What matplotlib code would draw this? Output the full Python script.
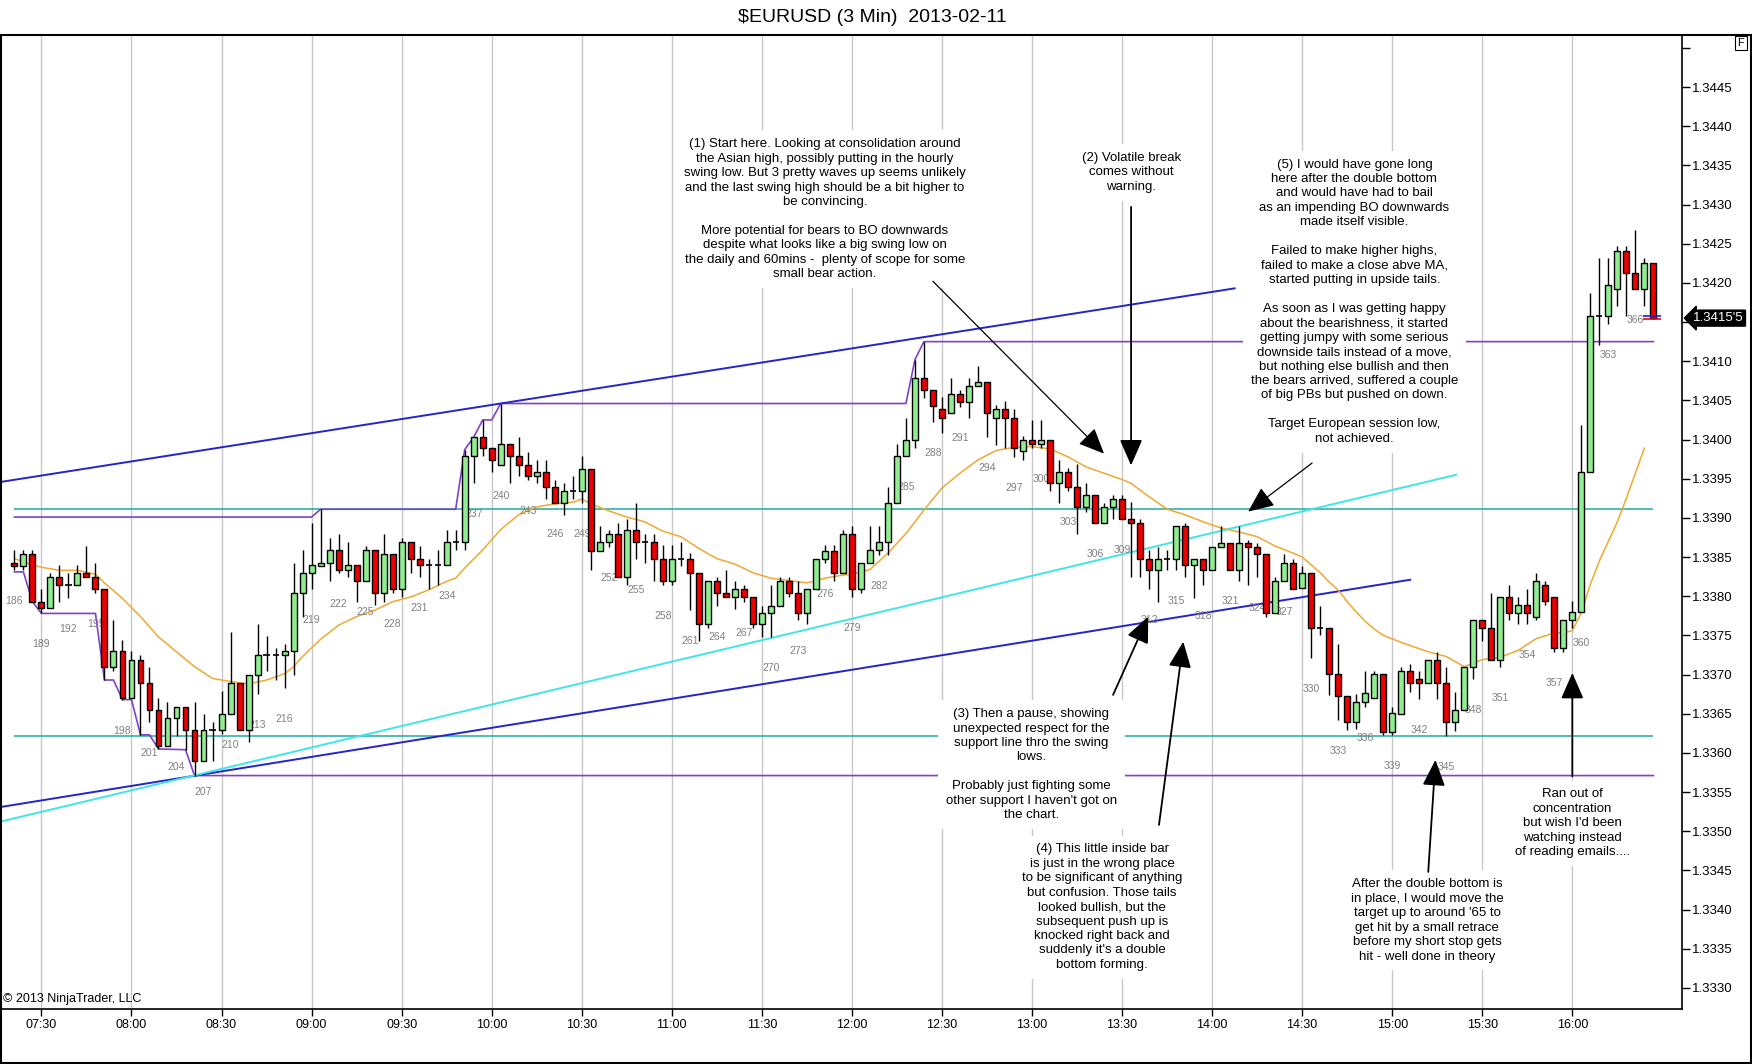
import numpy as np
import matplotlib.pyplot as plt
from matplotlib.patches import Rectangle

plt.rcParams['font.family'] = ['Liberation Sans', 'DejaVu Sans']

# 3 min bars, numbered as on the chart
first_bar = 186
opens = [
    1.33843, 1.33839, 1.33854, 1.33793, 1.33785, 1.33824, 1.33814, 1.33814, 1.33829, 1.33824,
    1.33809, 1.33709, 1.33730, 1.33670, 1.33719, 1.33689, 1.33655, 1.33609, 1.33644, 1.33659,
    1.33629, 1.33589, 1.33629, 1.33629, 1.33649, 1.33689, 1.33629, 1.33699, 1.33725, 1.33725,
    1.33725, 1.33730, 1.33804, 1.33829, 1.33839, 1.33843, 1.33859, 1.33834, 1.33840, 1.33819,
    1.33859, 1.33804, 1.33854, 1.33809, 1.33869, 1.33848, 1.33840, 1.33840, 1.33840, 1.33869,
    1.33869, 1.33979, 1.34003, 1.33989, 1.33968, 1.33994, 1.33979, 1.33968, 1.33953, 1.33958,
    1.33939, 1.33919, 1.33934, 1.33934, 1.33963, 1.33858, 1.33869, 1.33879, 1.33824, 1.33884,
    1.33869, 1.33869, 1.33848, 1.33819, 1.33848, 1.33848, 1.33829, 1.33764, 1.33819, 1.33804,
    1.33799, 1.33809, 1.33799, 1.33764, 1.33779, 1.33788, 1.33819, 1.33804, 1.33779, 1.33809,
    1.33848, 1.33858, 1.33829, 1.33879, 1.33809, 1.33843, 1.33859, 1.33869, 1.33919, 1.33979,
    1.33999, 1.34078, 1.34063, 1.34039, 1.34034, 1.34058, 1.34048, 1.34068, 1.34073, 1.34028,
    1.34039, 1.34028, 1.33985, 1.33999, 1.33994, 1.33999, 1.33944, 1.33959, 1.33939, 1.33914,
    1.33929, 1.33893, 1.33914, 1.33924, 1.33898, 1.33893, 1.33848, 1.33834, 1.33848, 1.33848,
    1.33889, 1.33840, 1.33848, 1.33834, 1.33863, 1.33868, 1.33834, 1.33868, 1.33863, 1.33854,
    1.33779, 1.33819, 1.33843, 1.33810, 1.33829, 1.33760, 1.33760, 1.33701, 1.33672, 1.33640,
    1.33665, 1.33670, 1.33701, 1.33627, 1.33649, 1.33704, 1.33694, 1.33689, 1.33719, 1.33689,
    1.33639, 1.33655, 1.33709, 1.33769, 1.33759, 1.33719, 1.33799, 1.33779, 1.33789, 1.33774,
    1.33814, 1.33799, 1.33734, 1.33770, 1.33780, 1.33958, 1.34158, 1.34158, 1.34192, 1.34241,
    1.34212, 1.34192, 1.34226,
]
highs = [
    1.33859, 1.33859, 1.33859, 1.33809, 1.33829, 1.33840, 1.33829, 1.33840, 1.33864, 1.33843,
    1.33809, 1.33770, 1.33744, 1.33730, 1.33725, 1.33709, 1.33670, 1.33665, 1.33659, 1.33659,
    1.33665, 1.33649, 1.33639, 1.33679, 1.33754, 1.33689, 1.33699, 1.33765, 1.33749, 1.33734,
    1.33739, 1.33843, 1.33859, 1.33893, 1.33911, 1.33874, 1.33879, 1.33869, 1.33840, 1.33864,
    1.33859, 1.33879, 1.33854, 1.33874, 1.33869, 1.33864, 1.33848, 1.33859, 1.33885, 1.33885,
    1.33987, 1.34003, 1.34025, 1.33989, 1.34046, 1.33994, 1.34003, 1.33984, 1.33974, 1.33974,
    1.33948, 1.33944, 1.33953, 1.33979, 1.33963, 1.33890, 1.33885, 1.33893, 1.33898, 1.33919,
    1.33879, 1.33879, 1.33865, 1.33865, 1.33869, 1.33855, 1.33829, 1.33819, 1.33824, 1.33834,
    1.33819, 1.33814, 1.33799, 1.33788, 1.33814, 1.33824, 1.33824, 1.33819, 1.33809, 1.33848,
    1.33865, 1.33865, 1.33884, 1.33889, 1.33843, 1.33889, 1.33889, 1.33940, 1.33994, 1.34028,
    1.34102, 1.34125, 1.34063, 1.34054, 1.34078, 1.34063, 1.34078, 1.34094, 1.34073, 1.34044,
    1.34049, 1.34039, 1.34004, 1.34025, 1.34025, 1.33999, 1.33974, 1.33964, 1.33969, 1.33944,
    1.33929, 1.33919, 1.33929, 1.33929, 1.33920, 1.33898, 1.33859, 1.33863, 1.33859, 1.33889,
    1.33893, 1.33848, 1.33848, 1.33863, 1.33889, 1.33868, 1.33889, 1.33872, 1.33868, 1.33854,
    1.33825, 1.33854, 1.33848, 1.33839, 1.33829, 1.33788, 1.33760, 1.33739, 1.33672, 1.33675,
    1.33705, 1.33705, 1.33701, 1.33658, 1.33709, 1.33714, 1.33704, 1.33719, 1.33729, 1.33709,
    1.33678, 1.33709, 1.33769, 1.33769, 1.33804, 1.33799, 1.33814, 1.33799, 1.33809, 1.33829,
    1.33819, 1.33799, 1.33769, 1.33794, 1.34018, 1.34187, 1.34232, 1.34232, 1.34247, 1.34247,
    1.34268, 1.34232, 1.34226,
]
lows = [
    1.33834, 1.33834, 1.33793, 1.33778, 1.33785, 1.33793, 1.33798, 1.33814, 1.33824, 1.33804,
    1.33693, 1.33704, 1.33668, 1.33670, 1.33623, 1.33639, 1.33605, 1.33609, 1.33621, 1.33604,
    1.33571, 1.33589, 1.33589, 1.33624, 1.33649, 1.33629, 1.33614, 1.33675, 1.33704, 1.33693,
    1.33683, 1.33699, 1.33774, 1.33809, 1.33839, 1.33819, 1.33829, 1.33824, 1.33793, 1.33819,
    1.33789, 1.33793, 1.33804, 1.33799, 1.33829, 1.33824, 1.33809, 1.33814, 1.33840, 1.33859,
    1.33859, 1.33944, 1.33979, 1.33958, 1.33968, 1.33944, 1.33953, 1.33948, 1.33944, 1.33924,
    1.33919, 1.33904, 1.33924, 1.33919, 1.33834, 1.33858, 1.33863, 1.33824, 1.33814, 1.33848,
    1.33843, 1.33819, 1.33814, 1.33814, 1.33838, 1.33782, 1.33743, 1.33759, 1.33788, 1.33799,
    1.33784, 1.33793, 1.33759, 1.33748, 1.33748, 1.33788, 1.33799, 1.33770, 1.33764, 1.33809,
    1.33843, 1.33819, 1.33829, 1.33799, 1.33804, 1.33843, 1.33853, 1.33853, 1.33919, 1.33979,
    1.33989, 1.34053, 1.34023, 1.34008, 1.34034, 1.34042, 1.34028, 1.34068, 1.34003, 1.33993,
    1.33989, 1.33978, 1.33974, 1.33989, 1.33989, 1.33934, 1.33919, 1.33934, 1.33879, 1.33908,
    1.33893, 1.33893, 1.33898, 1.33898, 1.33825, 1.33825, 1.33809, 1.33793, 1.33834, 1.33834,
    1.33825, 1.33798, 1.33814, 1.33834, 1.33863, 1.33834, 1.33819, 1.33814, 1.33825, 1.33774,
    1.33779, 1.33819, 1.33809, 1.33810, 1.33721, 1.33750, 1.33674, 1.33642, 1.33629, 1.33630,
    1.33658, 1.33670, 1.33623, 1.33623, 1.33649, 1.33678, 1.33669, 1.33689, 1.33669, 1.33621,
    1.33628, 1.33655, 1.33694, 1.33743, 1.33719, 1.33709, 1.33769, 1.33764, 1.33764, 1.33769,
    1.33789, 1.33729, 1.33729, 1.33759, 1.33780, 1.33958, 1.34121, 1.34147, 1.34171, 1.34158,
    1.34192, 1.34171, 1.34154,
]
closes = [
    1.33839, 1.33854, 1.33793, 1.33785, 1.33824, 1.33814, 1.33814, 1.33829, 1.33824, 1.33809,
    1.33709, 1.33730, 1.33670, 1.33719, 1.33689, 1.33655, 1.33609, 1.33644, 1.33659, 1.33629,
    1.33589, 1.33629, 1.33629, 1.33649, 1.33689, 1.33629, 1.33699, 1.33725, 1.33725, 1.33725,
    1.33730, 1.33804, 1.33829, 1.33840, 1.33843, 1.33859, 1.33834, 1.33840, 1.33819, 1.33859,
    1.33804, 1.33854, 1.33809, 1.33869, 1.33848, 1.33840, 1.33840, 1.33840, 1.33869, 1.33869,
    1.33979, 1.34003, 1.33989, 1.33974, 1.33994, 1.33979, 1.33968, 1.33953, 1.33958, 1.33939,
    1.33919, 1.33934, 1.33934, 1.33963, 1.33858, 1.33869, 1.33879, 1.33824, 1.33884, 1.33869,
    1.33869, 1.33848, 1.33819, 1.33848, 1.33848, 1.33829, 1.33764, 1.33819, 1.33804, 1.33799,
    1.33809, 1.33799, 1.33764, 1.33779, 1.33788, 1.33819, 1.33804, 1.33779, 1.33809, 1.33848,
    1.33858, 1.33829, 1.33879, 1.33809, 1.33843, 1.33859, 1.33869, 1.33919, 1.33979, 1.33999,
    1.34078, 1.34063, 1.34043, 1.34028, 1.34058, 1.34048, 1.34068, 1.34073, 1.34034, 1.34039,
    1.34028, 1.33989, 1.33999, 1.33994, 1.33999, 1.33944, 1.33959, 1.33939, 1.33914, 1.33929,
    1.33893, 1.33914, 1.33924, 1.33898, 1.33893, 1.33848, 1.33834, 1.33848, 1.33848, 1.33889,
    1.33840, 1.33848, 1.33834, 1.33863, 1.33868, 1.33834, 1.33868, 1.33863, 1.33854, 1.33779,
    1.33819, 1.33843, 1.33809, 1.33829, 1.33760, 1.33760, 1.33701, 1.33672, 1.33640, 1.33665,
    1.33676, 1.33701, 1.33627, 1.33651, 1.33704, 1.33689, 1.33689, 1.33719, 1.33689, 1.33639,
    1.33655, 1.33709, 1.33769, 1.33759, 1.33719, 1.33799, 1.33779, 1.33789, 1.33779, 1.33819,
    1.33794, 1.33734, 1.33769, 1.33780, 1.33958, 1.34158, 1.34158, 1.34197, 1.34241, 1.34212,
    1.34192, 1.34226, 1.34155,
]
assert len(opens) == len(highs) == len(lows) == len(closes)

# orange moving average
ma_bars = [186, 188, 189, 191, 193, 195, 196, 198, 200, 202, 204, 206, 208, 210, 212, 214, 216,
           217, 218, 220, 222, 224, 226, 228, 230, 232, 234, 235, 236, 238, 240, 242, 244, 246,
           248, 249, 250, 252, 254, 256, 258, 260, 262, 264, 266, 268, 270, 272, 274, 276, 278,
           279, 281, 283, 285, 287, 289, 291, 293, 295, 297, 299, 301, 303, 305, 307, 309, 310,
           312, 314, 316, 318, 320, 322, 324, 326, 328, 329, 330, 331, 332, 333, 334, 335, 336,
           337, 338, 340, 341, 343, 345, 347, 349, 351, 353, 355, 357, 358, 359, 360, 361, 362,
           363, 364, 365, 366, 367]
ma_vals = [1.33848, 1.33840, 1.33837, 1.33833, 1.33833, 1.33828, 1.33817, 1.33797, 1.33774,
           1.33748, 1.33729, 1.33710, 1.33695, 1.33691, 1.33688, 1.33693, 1.33701, 1.33710,
           1.33723, 1.33745, 1.33763, 1.33774, 1.33782, 1.33793, 1.33799, 1.33808, 1.33819,
           1.33823, 1.33836, 1.33859, 1.33885, 1.33904, 1.33914, 1.33918, 1.33920, 1.33924,
           1.33918, 1.33909, 1.33901, 1.33895, 1.33883, 1.33876, 1.33861, 1.33848, 1.33841,
           1.33830, 1.33823, 1.33820, 1.33817, 1.33823, 1.33827, 1.33828, 1.33834, 1.33855,
           1.33880, 1.33910, 1.33938, 1.33957, 1.33974, 1.33986, 1.33990, 1.33991, 1.33988,
           1.33978, 1.33965, 1.33957, 1.33949, 1.33944, 1.33927, 1.33911, 1.33904, 1.33895,
           1.33887, 1.33882, 1.33876, 1.33864, 1.33855, 1.33850, 1.33840, 1.33830, 1.33818,
           1.33808, 1.33793, 1.33780, 1.33768, 1.33758, 1.33750, 1.33741, 1.33737, 1.33729,
           1.33723, 1.33710, 1.33719, 1.33722, 1.33731, 1.33746, 1.33753, 1.33753, 1.33756,
           1.33779, 1.33815, 1.33845, 1.33870, 1.33895, 1.33925, 1.33957, 1.33989]

# purple session high / low step lines
high_line_bars = [186, 219, 220, 235, 236, 237, 238, 239, 240, 285, 286, 287, 368]
high_line_vals = [1.33901, 1.33901, 1.33911, 1.33911, 1.33987, 1.34003, 1.34025, 1.34025,
                  1.34046, 1.34046, 1.34102, 1.34125, 1.34125]
low_line_bars = [186, 187, 188, 189, 195, 196, 197, 198, 199, 200, 201, 202, 205, 206, 368]
low_line_vals = [1.33831, 1.33831, 1.33793, 1.33778, 1.33778, 1.33693, 1.33693, 1.33668,
                 1.33668, 1.33623, 1.33623, 1.33605, 1.33604, 1.33571, 1.33571]

# teal horizontal levels
teal_levels = [1.33911, 1.33622]

# drawn trend lines (bar, price)
resist_bars, resist_vals = [184, 321.5], [1.33945, 1.34193]
support_bars, support_vals = [184, 341.0], [1.33530, 1.33821]
cyan_bars, cyan_vals = [184, 346.1], [1.33511, 1.33955]

time_bars = list(range(189, 360, 10))
time_labels = ['07:30', '08:00', '08:30', '09:00', '09:30', '10:00', '10:30', '11:00', '11:30',
               '12:00', '12:30', '13:00', '13:30', '14:00', '14:30', '15:00', '15:30', '16:00']

notes = [
    (276.0, 1.34294,
     "(1) Start here. Looking at consolidation around\nthe Asian high, possibly putting in the hourly\n"
     "swing low. But 3 pretty waves up seems unlikely\nand the last swing high should be a bit higher to\n"
     "be convincing.\n\nMore potential for bears to BO downwards\ndespite what looks like a big swing low on\n"
     "the daily and 60mins -  plenty of scope for some\nsmall bear action."),
    (310.0, 1.34341, "(2) Volatile break\ncomes without\nwarning."),
    (334.8, 1.34176,
     "(5) I would have gone long\nhere after the double bottom\nand would have had to bail\n"
     "as an impending BO downwards\nmade itself visible.\n\nFailed to make higher highs,\n"
     "failed to make a close abve MA,\nstarted putting in upside tails.\n\n"
     "As soon as I was getting happy\nabout the bearishness, it started\ngetting jumpy with some serious\n"
     "downside tails instead of a move,\nbut nothing else bullish and then\n"
     "the bears arrived, suffered a couple\nof big PBs but pushed on down.\n\n"
     "Target European session low,\nnot achieved."),
    (298.9, 1.33585,
     "(3) Then a pause, showing\nunexpected respect for the\nsupport line thro the swing\nlows.\n\n"
     "Probably just fighting some\nother support I haven't got on\nthe chart."),
    (306.8, 1.33403,
     "(4) This little inside bar\nis just in the wrong place\nto be significant of anything\n"
     "but confusion. Those tails\nlooked bullish, but the\nsubsequent push up is\n"
     "knocked right back and\nsuddenly it's a double\nbottom forming."),
    (342.9, 1.33386,
     "After the double bottom is\nin place, I would move the\ntarget up to around '65 to\n"
     "get hit by a small retrace\nbefore my short stop gets\nhit - well done in theory"),
    (359.0, 1.33510, "Ran out of\nconcentration\nbut wish I'd been\nwatching instead\nof reading emails...."),
]

# arrows: (tail bar, tail price, head bar, head price, line width)
arrows = [
    (288.0, 1.34202, 307.0, 1.33982, 0.9),
    (310.0, 1.34297, 310.0, 1.33967, 1.3),
    (330.1, 1.33970, 323.0, 1.33908, 0.9),
    (308.0, 1.33674, 311.9, 1.33774, 1.3),
    (313.1, 1.33508, 315.8, 1.33742, 1.3),
    (343.0, 1.33448, 343.8, 1.33591, 1.3),
    (359.0, 1.33570, 359.0, 1.33702, 1.3),
]

last_price = 1.34155

bars = np.arange(first_bar, first_bar + len(opens))
o = np.array(opens)
h = np.array(highs)
l = np.array(lows)
c = np.array(closes)

fig = plt.figure(figsize=(17.52, 10.64), dpi=100)
ax = fig.add_axes([0.0, 0.0517, 0.96, 0.9158])

ax.grid(axis='x', color='#c8c8c8', lw=1)
ax.set_axisbelow(True)

ax.hlines(teal_levels, first_bar, bars[-1], colors='#20aaa0', lw=1.1, zorder=2)
ax.plot(high_line_bars, high_line_vals, color='#8040c8', lw=1.2, zorder=2)
ax.plot(low_line_bars, low_line_vals, color='#8040c8', lw=1.2, zorder=2)
ax.plot(resist_bars, resist_vals, color='#2424cc', lw=1.4, zorder=2)
ax.plot(support_bars, support_vals, color='#2424cc', lw=1.4, zorder=2)
ax.plot(cyan_bars, cyan_vals, color='#40e6e6', lw=1.4, zorder=2)
ax.plot(ma_bars, ma_vals, color='#f0a832', lw=1.1, zorder=2.5)

# candles
up = c >= o
ax.vlines(bars, l, h, color='black', lw=1, zorder=3)
body = np.abs(c - o)
solid = body > 0
ax.bar(bars[solid], body[solid], bottom=np.minimum(o, c)[solid], width=0.66,
       color=np.where(up, '#90ee90', '#ee0000')[solid], edgecolor='black', linewidth=1, zorder=4)
ax.hlines(o[~solid], bars[~solid] - 0.34, bars[~solid] + 0.34, colors='black', lw=1.2, zorder=4)

ax.hlines(last_price + 0.00003, bars[-1] - 1.1, bars[-1] + 0.9, colors='#2020d0', lw=1.2, zorder=4)
ax.hlines(last_price - 0.00001, bars[-1] - 1.1, bars[-1] + 0.9, colors='#ee0000', lw=1.2, zorder=4)

for b, low in zip(bars, l):
    if b % 3 == 0:
        ax.annotate(str(b), (b, low), xytext=(0, -31), textcoords='offset pixels',
                    ha='center', va='center', fontsize=7.5, color='#808080', zorder=3)

for x, y, txt in notes:
    ax.text(x, y, txt, ha='center', va='center', multialignment='center', fontsize=9.5,
            linespacing=1.27, zorder=6,
            bbox=dict(boxstyle='square,pad=0.6', fc='white', ec='none'))

for x0, y0, x1, y1, w in arrows:
    ax.annotate('', xy=(x1, y1), xytext=(x0, y0), zorder=7,
                arrowprops=dict(arrowstyle='-|>,head_length=0.8,head_width=0.35',
                                mutation_scale=20, color='black', lw=w,
                                shrinkA=0, shrinkB=0))

ax.set_xlim(184.40, 371.17)
ax.set_ylim(1.33273, 1.34517)

price_ticks = np.round(np.arange(1.3330, 1.34501, 0.0005), 4)
price_labels = ['' if t in (1.3450, 1.3415) else f'{t:.4f}' for t in price_ticks]
ax.yaxis.tick_right()
ax.set_yticks(price_ticks, price_labels)
ax.tick_params(axis='y', direction='out', length=6, width=1, labelsize=9.5, pad=1.5)
ax.set_xticks(time_bars, time_labels)
ax.tick_params(axis='x', direction='out', length=5, width=1, labelsize=9, pad=2)

for s in ax.spines.values():
    s.set_linewidth(1.2)

ax.text(1.0065, last_price, "1.3415'5", transform=ax.get_yaxis_transform(), color='white',
        fontsize=9.5, ha='left', va='center', zorder=8, clip_on=False,
        bbox=dict(boxstyle='larrow,pad=0.15', fc='black', ec='black'))

ax.text(0.002, 0.004, '© 2013 NinjaTrader, LLC', transform=ax.transAxes, fontsize=9,
        ha='left', va='bottom', zorder=6)

fig.text(0.4977, 0.984, '$EURUSD (3 Min)  2013-02-11', ha='center', va='center', fontsize=14)
fig.text(0.9937, 0.9596, 'F', ha='center', va='center', fontsize=8,
         bbox=dict(boxstyle='square,pad=0.2', fc='white', ec='black', lw=0.8))
fig.add_artist(Rectangle((0.0006, 0.0009), 0.9988, 0.9666, transform=fig.transFigure,
                         fill=False, ec='black', lw=1.5))

fig.savefig('out.png', dpi=100)
